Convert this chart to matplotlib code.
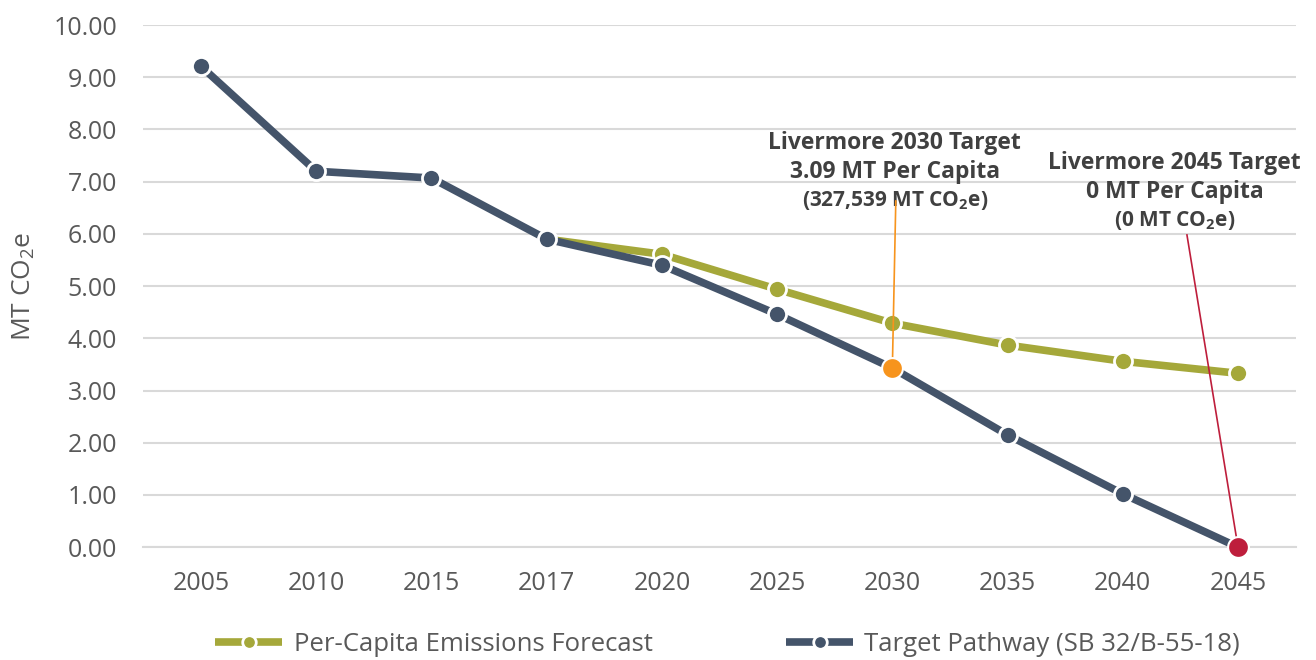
import matplotlib
matplotlib.use("Agg")
import matplotlib.pyplot as plt

plt.rcParams['font.family'] = ['Open Sans', 'DejaVu Sans']
plt.rcParams['mathtext.default'] = 'regular'

years = ["2005", "2010", "2015", "2017", "2020", "2025", "2030", "2035", "2040", "2045"]
target = [9.21, 7.20, 7.07, 5.90, 5.40, 4.46, 3.43, 2.15, 1.02, 0.0]
forecast_years = ["2017", "2020", "2025", "2030", "2035", "2040", "2045"]
forecast = [5.90, 5.61, 4.94, 4.29, 3.87, 3.56, 3.33]

olive = "#A5A83A"
slate = "#44546A"
orange = "#F7941D"
red = "#BE1E3C"
txt = "#404040"
grey = "#595959"

fig = plt.figure(figsize=(13.16, 6.6), dpi=100)
ax = fig.add_axes([0.109, 0.171, 0.8755, 0.791])

x = list(range(len(years)))
xf = [years.index(y) for y in forecast_years]

ax.plot(xf, forecast, color=olive, lw=5.5, marker="o", ms=13, mfc=olive,
        mec="white", mew=2, solid_capstyle="butt", clip_on=False, zorder=3,
        label="Per-Capita Emissions Forecast")
ax.plot(x, target, color=slate, lw=5.5, marker="o", ms=13, mfc=slate,
        mec="white", mew=2, solid_capstyle="butt", clip_on=False, zorder=4,
        label="Target Pathway (SB 32/B-55-18)")

# highlighted target points
i30 = years.index("2030")
i45 = years.index("2045")
ax.plot(i30, target[i30], "o", ms=15, color=orange, mec="white", mew=1.5, zorder=6, clip_on=False)
ax.plot(i45, target[i45], "o", ms=15, color=red, mec="white", mew=1.5, zorder=6, clip_on=False)

# leader lines
ax.plot([i30 + 0.03, i30], [6.63, target[i30]], color=orange, lw=1.2, zorder=5)
ax.plot([i45 - 0.443, i45], [5.98, target[i45]], color=red, lw=1.2, zorder=5)

# annotation text
ax.text(i30 + 0.02, 7.74, "Livermore 2030 Target", ha="center", va="center",
        fontsize=16.5, fontweight="bold", color=txt)
ax.text(i30 + 0.02, 7.18, "3.09 MT Per Capita", ha="center", va="center",
        fontsize=16.5, fontweight="bold", color=txt)
ax.text(i30 + 0.02, 6.64, "(327,539 MT CO$_2$e)", ha="center", va="center",
        fontsize=15, fontweight="bold", color=txt)
ax.text(i45 - 0.55, 7.36, "Livermore 2045 Target", ha="center", va="center",
        fontsize=16.5, fontweight="bold", color=txt)
ax.text(i45 - 0.55, 6.80, "0 MT Per Capita", ha="center", va="center",
        fontsize=16.5, fontweight="bold", color=txt)
ax.text(i45 - 0.55, 6.26, "(0 MT CO$_2$e)", ha="center", va="center",
        fontsize=15, fontweight="bold", color=txt)

ax.set_xlim(-0.5, len(years) - 0.5)
ax.set_ylim(0, 10)
ax.set_xticks(x)
ax.set_xticklabels(years)
ax.set_yticks(range(0, 11))
ax.set_yticklabels([f"{v:.2f}" for v in range(0, 11)])
ax.tick_params(axis="both", labelsize=18, colors=grey, length=0)
ax.tick_params(axis="y", pad=19)
ax.tick_params(axis="x", pad=17)
ax.grid(axis="y", color="#D9D9D9", lw=1.5)
ax.set_axisbelow(True)
for s in ["top", "right", "left"]:
    ax.spines[s].set_visible(False)
ax.spines["bottom"].set_color("#D9D9D9")
ax.spines["bottom"].set_linewidth(1.5)

ax.set_ylabel("MT CO$_2$e", fontsize=19, color=grey)
ax.yaxis.set_label_coords(-0.092, 0.5)

fig.legend(loc="lower center", bbox_to_anchor=(0.553, -0.03), ncol=2, frameon=False,
           fontsize=18.5, handlelength=2.6, handletextpad=0.45, markerscale=0.75,
           columnspacing=5.2, labelcolor=grey)

fig.savefig("out.png", dpi=100)
